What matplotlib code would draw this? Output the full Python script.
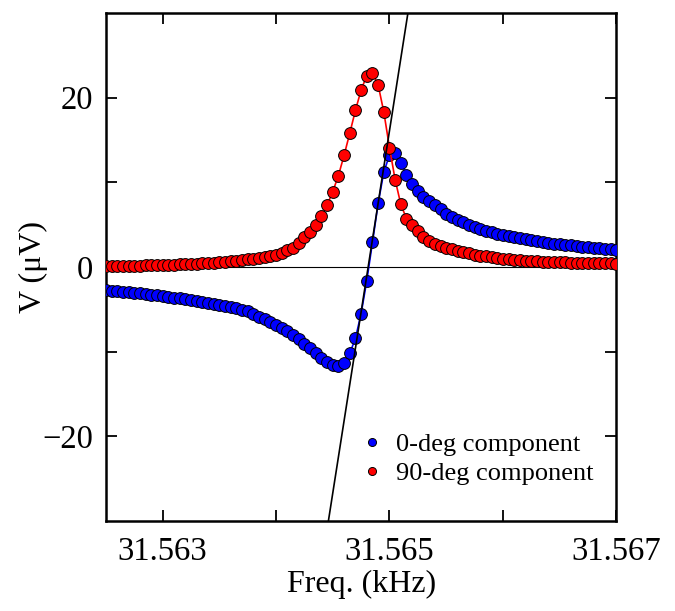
import numpy as np
import matplotlib
matplotlib.use("Agg")
import matplotlib.pyplot as plt
from matplotlib.ticker import FixedLocator, FormatStrFormatter

plt.rcParams['font.family'] = ['Liberation Serif', 'DejaVu Serif']

# Частотная развёртка, кГц
f_start = 31.5625
f_stop = 31.567
n_pts = 91
freq = np.linspace(f_start, f_stop, n_pts)

# Синфазная компонента (0 град), мкВ
v_0deg = [
    -2.75, -2.80, -2.86, -2.92, -2.98, -3.05, -3.12, -3.19, -3.27, -3.35,
    -3.43, -3.51, -3.60, -3.69, -3.78, -3.88, -3.98, -4.08, -4.19, -4.31,
    -4.44, -4.57, -4.71, -4.86, -5.02, -5.25, -5.55, -5.85, -6.15, -6.48,
    -6.82, -7.20, -7.60, -8.05, -8.55, -9.05, -9.60, -10.15, -10.70, -11.20,
    -11.55, -11.65, -11.30, -10.20, -8.40, -5.50, -1.60, 2.90, 7.50, 11.20,
    13.20, 13.40, 12.30, 10.90, 9.80, 9.00, 8.30, 7.80, 7.30, 6.80,
    6.30, 5.90, 5.60, 5.30, 5.00, 4.75, 4.50, 4.30, 4.10, 3.95,
    3.80, 3.65, 3.50, 3.38, 3.26, 3.15, 3.05, 2.95, 2.86, 2.77,
    2.69, 2.61, 2.54, 2.47, 2.40, 2.34, 2.28, 2.22, 2.16, 2.10, 2.05,
]

# Квадратурная компонента (90 град), мкВ
v_90deg = [
    0.10, 0.11, 0.12, 0.13, 0.15, 0.16, 0.17, 0.19, 0.20, 0.22,
    0.24, 0.26, 0.28, 0.31, 0.34, 0.37, 0.40, 0.44, 0.48, 0.52,
    0.57, 0.63, 0.69, 0.75, 0.82, 0.90, 0.98, 1.06, 1.16, 1.28,
    1.43, 1.65, 1.95, 2.30, 2.80, 3.50, 4.10, 4.90, 6.00, 7.30,
    8.90, 10.80, 13.20, 15.80, 18.50, 20.90, 22.60, 22.90, 21.50, 18.30,
    14.10, 10.30, 7.40, 5.70, 4.90, 4.20, 3.60, 3.05, 2.75, 2.50,
    2.28, 2.08, 1.90, 1.75, 1.60, 1.45, 1.35, 1.25, 1.15, 1.06,
    0.98, 0.91, 0.85, 0.80, 0.75, 0.71, 0.67, 0.64, 0.61, 0.59,
    0.57, 0.55, 0.53, 0.51, 0.49, 0.47, 0.45, 0.44, 0.43, 0.42, 0.41,
]

# Линейная аппроксимация вблизи резонанса
fit_f0 = 31.564812   # кГц, пересечение нуля
fit_slope = 85500.0  # мкВ/кГц

fig = plt.figure(figsize=(6.75, 6.11), dpi=100)
ax = fig.add_axes([0.157, 0.147, 0.756, 0.832])

ax.axhline(0, color='k', lw=0.8, zorder=1)

ax.plot(freq, v_0deg, '-', color='blue', lw=1.2, zorder=2)
ax.plot(freq, v_0deg, 'o', ms=8.5, mfc='blue', mec='k', mew=0.7, zorder=3,
        label='0-deg component')
ax.plot(freq, v_90deg, '-', color='red', lw=1.2, zorder=4)
ax.plot(freq, v_90deg, 'o', ms=8.5, mfc='red', mec='k', mew=0.7, zorder=5,
        label='90-deg component')

f_fit = np.array([fit_f0 - 0.001, fit_f0 + 0.001])
ax.plot(f_fit, fit_slope * (f_fit - fit_f0), 'k-', lw=1.2, zorder=6)

ax.set_xlim(f_start, f_stop)
ax.set_ylim(-30, 30)

ax.xaxis.set_major_locator(FixedLocator([31.563, 31.565, 31.567]))
ax.xaxis.set_minor_locator(FixedLocator([31.564, 31.566]))
ax.xaxis.set_major_formatter(FormatStrFormatter('%.3f'))
ax.yaxis.set_major_locator(FixedLocator([-20, 0, 20]))
ax.yaxis.set_minor_locator(FixedLocator([-10, 10]))

ax.tick_params(which='both', direction='in', top=True, right=True,
               length=8, width=1.3, labelsize=23.5)
ax.tick_params(axis='x', pad=11)
ax.tick_params(axis='y', pad=9)
for s in ax.spines.values():
    s.set_linewidth(1.8)

ax.set_xlabel('Freq. (kHz)', fontsize=23, labelpad=2)
ax.set_ylabel('V (μV)', fontsize=23, labelpad=-4)

ax.legend(loc='lower left', bbox_to_anchor=(0.475, 0.045), frameon=False,
          fontsize=19, markerscale=0.68, handlelength=0.8,
          handletextpad=0.5, labelspacing=0.2, borderpad=0)

fig.savefig('out.png', dpi=100)
